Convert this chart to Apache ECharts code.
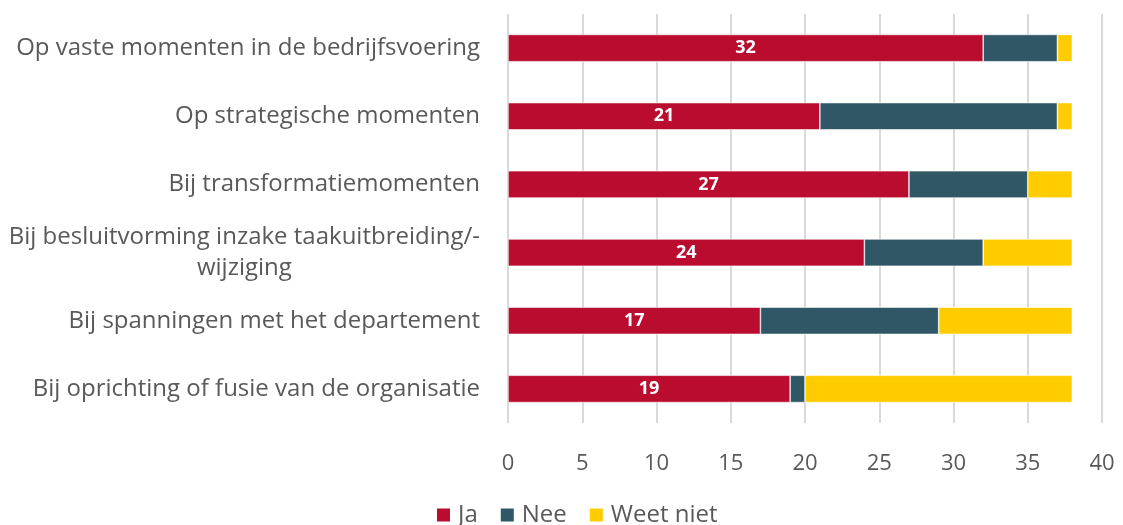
<!DOCTYPE html>
<html>
<head>
<meta charset="utf-8">
<script src="https://cdn.jsdelivr.net/npm/echarts@6/dist/echarts.min.js"></script>
<style>html,body{margin:0;padding:0;background:#fff}#c{width:1123px;height:525px}</style>
</head>
<body>
<div id="c"></div>
<script>
const categories = [
  "Op vaste momenten in de bedrijfsvoering",
  "Op strategische momenten",
  "Bij transformatiemomenten",
  "Bij besluitvorming inzake taakuitbreiding/-\nwijziging",
  "Bij spanningen met het departement",
  "Bij oprichting of fusie van de organisatie"
];
const ja = [32, 21, 27, 24, 17, 19];
const nee = [5, 16, 8, 8, 12, 1];
const weetNiet = [1, 1, 3, 6, 9, 18];
const xTicks = [0, 5, 10, 15, 20, 25, 30, 35, 40];

const font = "'Open Sans', 'Noto Sans', sans-serif";
const chart = echarts.init(document.getElementById('c'), null, {renderer: 'canvas'});
const bar = (name, data, color, label) => ({
  name, type: 'bar', stack: 'total', data, barWidth: '40%',
  itemStyle: {color, borderColor: '#ffffff', borderWidth: 0.6},
  label: label ? {show: true, position: 'inside', color: '#ffffff', fontWeight: 'bold', fontSize: 18, fontFamily: font} : {show: false},
  emphasis: {disabled: true}, animation: false
});
chart.setOption({
  animation: false,
  grid: {left: 508, right: 21, top: 14, bottom: 102, containLabel: false},
  legend: {
    data: ['Ja', 'Nee', 'Weet niet'], left: 435, top: 503, padding: 0, itemWidth: 15, itemHeight: 15, itemGap: 21,
    icon: 'rect', textStyle: {fontSize: 24, color: '#595959', fontFamily: font, padding: [0, 0, 0, 2]}
  },
  xAxis: {
    type: 'value', min: 0, max: 40, interval: 5,
    axisLine: {show: false}, axisTick: {show: false},
    splitLine: {show: true, lineStyle: {color: '#d9d9d9', width: 2}},
    axisLabel: {fontSize: 22, color: '#595959', fontFamily: font, margin: 30,
      formatter: v => xTicks.includes(v) ? String(v) : ''}
  },
  yAxis: {
    type: 'category', data: categories, inverse: true,
    axisLine: {show: false}, axisTick: {show: false},
    axisLabel: {
      fontSize: 24, color: '#595959', fontFamily: font, margin: 28, lineHeight: 31,
      formatter: v => {
        if (v.indexOf('\n') >= 0) {
          const p = v.split('\n');
          return '{a|' + p[0] + '}\n{b|' + p[1] + '}';
        }
        return v;
      },
      rich: {
        a: {fontSize: 24, color: '#595959', fontFamily: font, lineHeight: 31, align: 'right'},
        b: {fontSize: 24, color: '#595959', fontFamily: font, lineHeight: 31, align: 'center'}
      }
    }
  },
  series: [
    bar('Ja', ja, '#BA0C2F', true),
    bar('Nee', nee, '#2F5765', false),
    bar('Weet niet', weetNiet, '#FFCC00', false)
  ]
});
</script>
</body>
</html>
